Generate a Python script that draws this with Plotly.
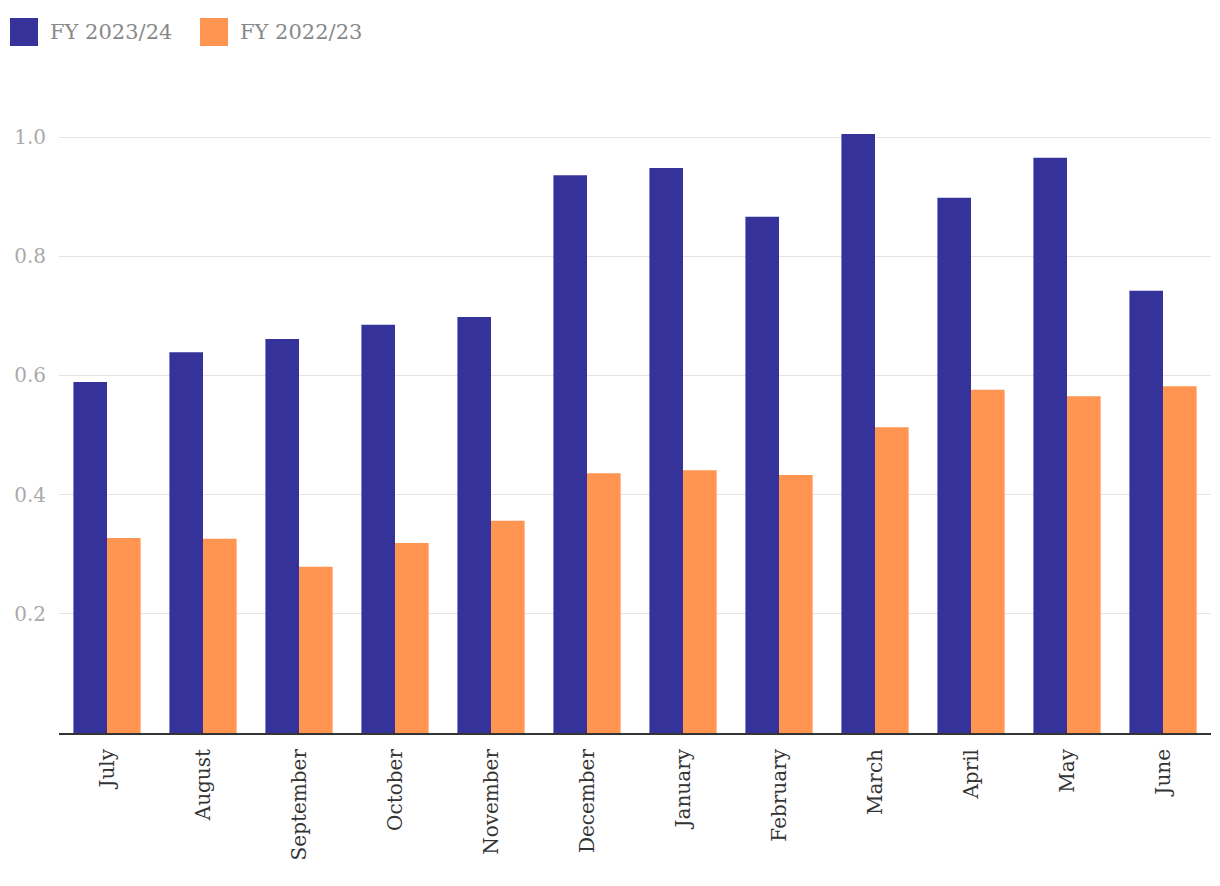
import plotly.graph_objects as go

months = ["July", "August", "September", "October", "November", "December",
          "January", "February", "March", "April", "May", "June"]
fy_2324 = [0.589, 0.639, 0.661, 0.685, 0.698, 0.936, 0.948, 0.866, 1.005, 0.898, 0.965, 0.742]
fy_2223 = [0.327, 0.326, 0.279, 0.319, 0.356, 0.436, 0.441, 0.433, 0.513, 0.576, 0.565, 0.582]
series_names = ["FY 2023/24", "FY 2022/23"]
colors = ["#353399", "#ff9551"]
y_ticks = [0.2, 0.4, 0.6, 0.8, 1.0]

FONT = "DejaVu Serif"

# plot area target (page px): left 59, right 1211, top 101, bottom 733
PL, PR, PT, PB = 59, 1211, 101, 733
PW, PH = PR - PL, PB - PT

fig = go.Figure()
for name, vals, col in zip(series_names, [fy_2324, fy_2223], colors):
    fig.add_trace(go.Bar(x=months, y=vals, name=name, marker=dict(color=col, line=dict(width=0)),
                         showlegend=False))

# custom legend (large squares)
leg_x = [10, 200]
for i, (name, col) in enumerate(zip(series_names, colors)):
    x0 = leg_x[i]
    fig.add_shape(type="rect", xref="paper", yref="paper",
                  x0=(x0 - PL) / PW, x1=(x0 + 28 - PL) / PW,
                  y0=(PB - 46) / PH, y1=(PB - 18) / PH,
                  fillcolor=col, line=dict(width=0))
    fig.add_annotation(text=name, xref="paper", yref="paper",
                       x=(x0 + 38 - PL) / PW, y=(PB - 32) / PH,
                       xanchor="left", yanchor="middle", showarrow=False,
                       font=dict(family=FONT, size=21, color="#888888"))

fig.update_layout(
    width=1220, height=886,
    margin=dict(l=PL - 8, r=1228 - PR, t=PT - 8, b=894 - PB, autoexpand=False),
    barmode="group", bargap=0.3, bargroupgap=0,
    plot_bgcolor="white", paper_bgcolor="white",
    font=dict(family=FONT),
    xaxis=dict(tickangle=-90, tickfont=dict(family=FONT, size=20, color="#333333"),
               showline=True, linecolor="#333333", linewidth=2, ticks="",
               showgrid=False, ticklabelstandoff=6, automargin=False),
    yaxis=dict(range=[0, PH / 596], tickvals=y_ticks, ticktext=[f"{v:.1f}" for v in y_ticks],
               tickfont=dict(family=FONT, size=20, color="#aaaaaa"),
               showgrid=True, gridcolor="#e5e5e5", gridwidth=1, zeroline=False,
               ticks="", ticklen=0, ticklabelstandoff=12, automargin=False),
)

fig.write_html("out.html")
